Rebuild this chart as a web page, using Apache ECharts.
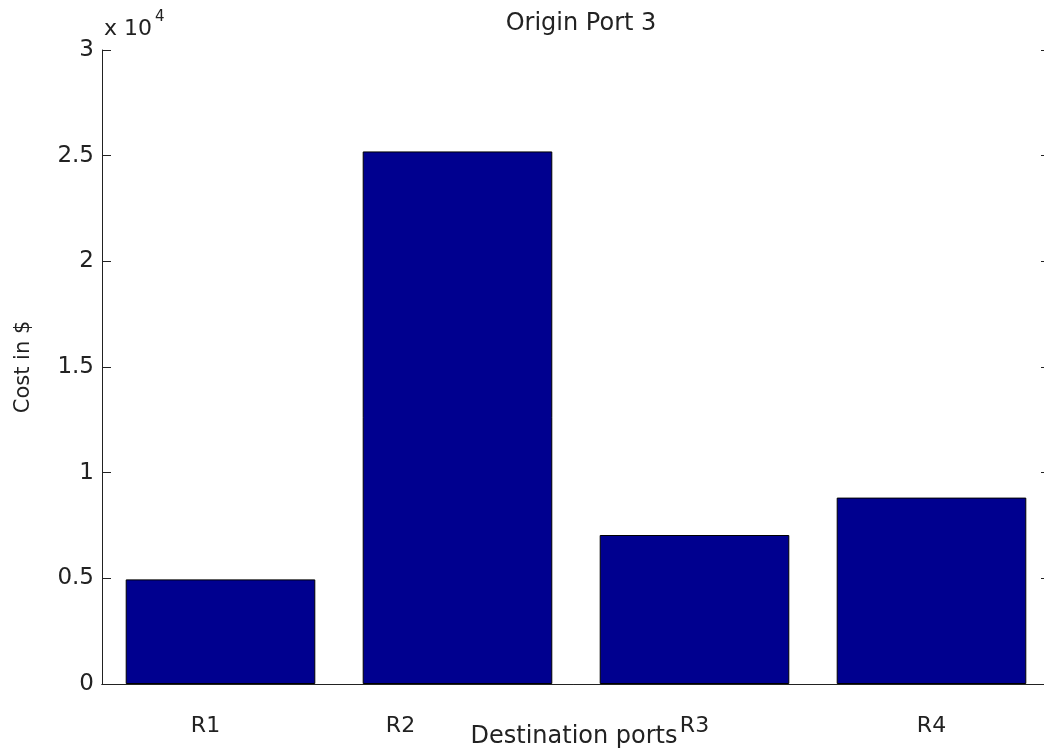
<!DOCTYPE html>
<html>
<head>
<meta charset="utf-8">
<script src="https://cdn.jsdelivr.net/npm/echarts@6/dist/echarts.min.js"></script>
<style>
  html, body { margin: 0; padding: 0; background: #fff; }
  #chart { width: 1044px; height: 755px; }
</style>
</head>
<body>
<div id="chart"></div>
<script>
// 数据
const ports = ['R1', 'R2', 'R3', 'R4'];
const costs = [4950, 25200, 7050, 8820];

const dom = document.getElementById('chart');
const myChart = echarts.init(dom);

const font = 'DejaVu Sans';
const textColor = '#222';
const lineColor = '#222';
// 标签水平偏移 (R1、R2 在原图中左移)
const labelPad = { R1: 30, R2: 114, R3: 0, R4: 0 };

const option = {
    backgroundColor: '#fff',
    animation: false,
    title: {
        text: 'Origin Port 3',
        left: 576,
        top: 7,
        textAlign: 'center',
        textStyle: { fontFamily: font, fontSize: 24, fontWeight: 'normal', color: textColor }
    },
    graphic: [{
        type: 'text',
        left: 104,
        top: 10,
        style: {
            text: '{b|x 10}{s|4}',
            rich: {
                b: { fontFamily: font, fontSize: 22, fill: textColor, padding: [12, 0, 0, 0] },
                s: { fontFamily: font, fontSize: 15, fill: textColor, padding: [0, 0, 12, 3] }
            }
        }
    }],
    grid: {
        left: 102,
        right: -6,
        top: 50,
        bottom: 71,
        outerBoundsMode: 'none',
        containLabel: false
    },
    xAxis: [{
        type: 'category',
        data: ports,
        position: 'bottom',
        name: 'Destination ports',
        nameLocation: 'middle',
        nameGap: 41,
        nameMoveOverlap: false,
        nameTextStyle: { fontFamily: font, fontSize: 24, color: textColor, padding: [0, 4, 0, 0] },
        axisLine: { lineStyle: { color: lineColor, width: 1 } },
        axisTick: { inside: true, alignWithLabel: true, length: 9, lineStyle: { color: lineColor } },
        axisLabel: {
            margin: 31,
            formatter: v => '{' + v + '|' + v + '}',
            rich: Object.fromEntries(ports.map(p => [p, {
                fontFamily: font, fontSize: 22, color: textColor,
                padding: [0, labelPad[p], 0, 0]
            }]))
        },
        splitLine: { show: false }
    }, {
        type: 'category',
        data: ports,
        position: 'top',
        axisLine: { lineStyle: { color: lineColor, width: 1 } },
        axisTick: { inside: true, alignWithLabel: true, length: 9, lineStyle: { color: lineColor } },
        axisLabel: { show: false },
        splitLine: { show: false }
    }],
    yAxis: [{
        type: 'value',
        min: 0,
        max: 30000,
        interval: 5000,
        name: 'Cost in $',
        nameLocation: 'middle',
        nameRotate: 90,
        nameGap: 68,
        nameMoveOverlap: false,
        nameTextStyle: { fontFamily: font, fontSize: 21, color: textColor },
        axisLine: { show: true, lineStyle: { color: lineColor, width: 1 } },
        axisTick: { show: true, inside: true, length: 9, lineStyle: { color: lineColor } },
        axisLabel: {
            fontFamily: font, fontSize: 23, color: textColor, margin: 8,
            formatter: v => String(v / 10000)
        },
        splitLine: { show: false }
    }, {
        type: 'value',
        min: 0,
        max: 30000,
        interval: 5000,
        position: 'right',
        axisLine: { show: true, lineStyle: { color: lineColor, width: 1 } },
        axisTick: { show: true, inside: true, length: 9, lineStyle: { color: lineColor } },
        axisLabel: { show: false },
        splitLine: { show: false }
    }],
    series: [{
        type: 'bar',
        data: costs,
        barWidth: '80%',
        xAxisIndex: 0,
        yAxisIndex: 0,
        itemStyle: { color: '#00008F', borderColor: '#000', borderWidth: 1 }
    }]
};

myChart.setOption(option);

window.addEventListener('resize', function () {
    myChart.resize();
});
</script>
</body>
</html>
